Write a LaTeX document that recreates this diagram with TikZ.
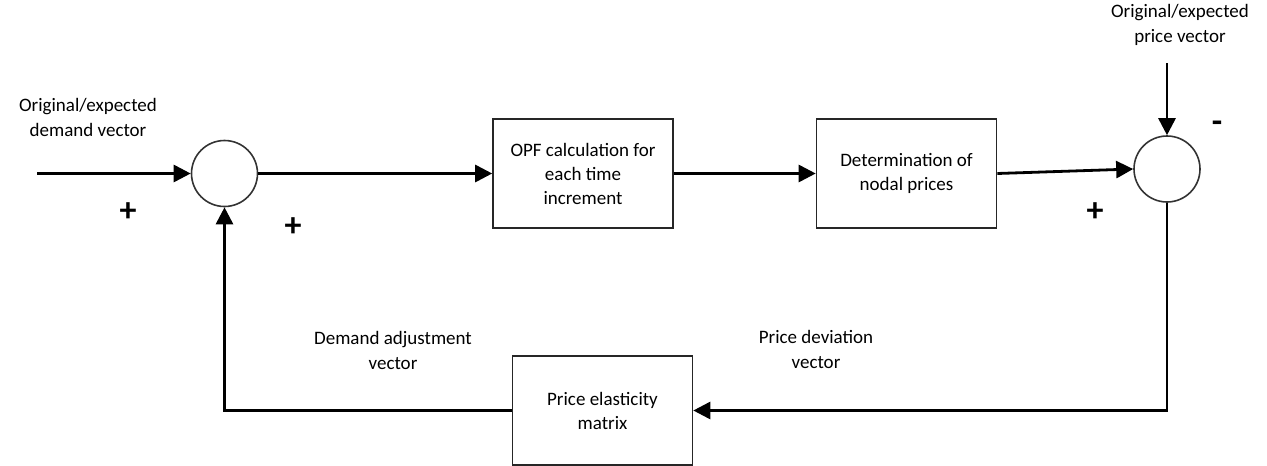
\documentclass[tikz,border=0pt]{standalone}
\usepackage{fontspec}
\setmainfont{Carlito}
\usetikzlibrary{arrows.meta}

\begin{document}
\begin{tikzpicture}[x=1pt,y=-1pt,
  block/.style={draw=black!85, line width=1.6pt, minimum width=180pt, minimum height=109pt,
    inner sep=0pt, align=center, text=black, font=\fontsize{19}{24}\selectfont},
  sumpt/.style={circle, draw=black!80, line width=1.6pt, minimum size=66pt, inner sep=0pt},
  flow/.style={line width=2.8pt, -{Triangle[length=17pt,width=17pt]}},
  lbl/.style={align=center, text=black, font=\fontsize{19}{25}\selectfont},
  sign/.style={inner sep=0pt, font=\fontsize{34}{34}\selectfont\bfseries}]

  % page frame
  \useasboundingbox (0,0) rectangle (1267,466);

  % blocks and summing points
  \node[sumpt] (c1) at (224.5,173.5) {};
  \node[block] (b1) at (583,173.5) {OPF calculation for\\each time\\increment};
  \node[block] (b2) at (906.5,173.5) {Determination of\\nodal prices};
  \node[sumpt] (c2) at (1167,169) {};
  \node[block] (b3) at (602.5,410.5) {Price elasticity\\matrix};

  % external inputs
  \coordinate (din) at (37,173.5);
  \coordinate (pin) at (1167,63);

  % forward path
  \draw[flow] (din) -- (c1.west);
  \draw[flow] (c1.east) -- (b1.west);
  \draw[flow] (b1.east) -- (b2.west);
  \draw[flow] (b2.east) -- (c2.west);
  \draw[flow] (pin) -- (c2.north);

  % feedback path
  \draw[flow] (c2.south) |- (b3.east);
  \draw[flow] (b3.west) -| (c1.south);

  % signal labels
  \node[lbl] (tdem) at (88,117.5) {Original/expected\\demand vector};
  \node[lbl] (tprc) at (1180,24.5) {Original/expected\\price vector};
  \node[lbl] (tadj) at (393,350) {Demand adjustment\\vector};
  \node[lbl] (tdev) at (816,349.5) {Price deviation\\vector};

  % signs at the summing points
  \node[sign] (s1) at (128,212) {+};
  \node[sign] (s2) at (293,227) {+};
  \node[sign] (s3) at (1095,212) {+};
  \node[sign] (s4) at (1217,127) {-};
\end{tikzpicture}
\end{document}
